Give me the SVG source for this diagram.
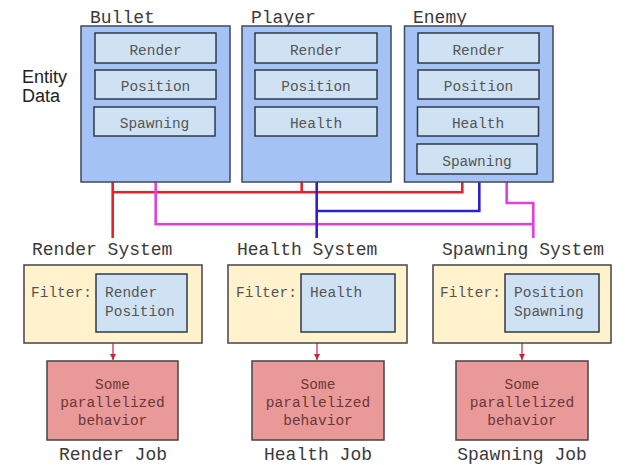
<svg xmlns="http://www.w3.org/2000/svg" width="640" height="465" viewBox="0 0 640 465">
<defs>
<style>
.ent{fill:#a4c2f4;stroke:#3f4a5a;stroke-width:1.5}
.comp{fill:#cfe2f3;stroke:#2f3a48;stroke-width:1.5}
.sys{fill:#fff2cc;stroke:#444;stroke-width:1.5}
.job{fill:#ea9999;stroke:#444;stroke-width:1.5}
.t{font-family:"Liberation Mono","Courier New",monospace;fill:#333}
.title{font-size:18px;fill:#3a3a3a}
.small{font-size:14.5px;fill:#555}
.ctr{text-anchor:middle}
.jt{fill:#6a3838}
.wire{fill:none;stroke-width:2.6}
.red{stroke:#e8202a}
.blue{stroke:#2a22d0}
.mag{stroke:#e040e0}
</style>
<marker id="ah" markerWidth="8" markerHeight="8" refX="6" refY="4" orient="auto" markerUnits="userSpaceOnUse">
<path d="M0,1 L6,4 L0,7 Z" fill="#d0203a"/>
</marker>
</defs>
<rect width="640" height="465" fill="#ffffff"/>

<text x="22" y="83" font-family="Liberation Sans, Arial, sans-serif" font-size="18" fill="#222">Entity</text>
<text x="22" y="102" font-family="Liberation Sans, Arial, sans-serif" font-size="18" fill="#222">Data</text>

<g id="connectors">
<path class="wire red" d="M112.7,182 V238 M112.7,192.3 H462.3 V182 M301.7,182 V192.3"/>
<path class="wire mag" d="M155.7,182 V224.3 H533.3 M506.7,182 V203 H533.3 V238"/>
<path class="wire blue" d="M316.7,182 V238 M316.7,211 H479.3 V182"/>
<line x1="113" y1="343" x2="113" y2="360" stroke="#d0203a" stroke-width="1.2" marker-end="url(#ah)"/>
<line x1="317" y1="343" x2="317" y2="360" stroke="#d0203a" stroke-width="1.2" marker-end="url(#ah)"/>
<line x1="522" y1="343" x2="522" y2="360" stroke="#d0203a" stroke-width="1.2" marker-end="url(#ah)"/>
</g>

<g id="bullet">
<text class="t title" x="90" y="23">Bullet</text>
<rect class="ent" x="81" y="26" width="149" height="156"/>
<rect class="comp" x="95" y="33" width="121" height="30"/>
<text class="t small ctr" x="155.5" y="54.5">Render</text>
<rect class="comp" x="95" y="70" width="121" height="29"/>
<text class="t small ctr" x="155.5" y="91">Position</text>
<rect class="comp" x="94" y="107" width="121" height="29"/>
<text class="t small ctr" x="154.5" y="128">Spawning</text>
</g>

<g id="player">
<text class="t title" x="251" y="23">Player</text>
<rect class="ent" x="242" y="26" width="149" height="156"/>
<rect class="comp" x="255" y="33" width="122" height="30"/>
<text class="t small ctr" x="316" y="54.5">Render</text>
<rect class="comp" x="255" y="70" width="122" height="29"/>
<text class="t small ctr" x="316" y="91">Position</text>
<rect class="comp" x="255" y="107" width="122" height="29"/>
<text class="t small ctr" x="316" y="128">Health</text>
</g>

<g id="enemy">
<text class="t title" x="413" y="23">Enemy</text>
<rect class="ent" x="404.5" y="26" width="148.5" height="156"/>
<rect class="comp" x="418" y="33" width="121" height="30"/>
<text class="t small ctr" x="478.5" y="54.5">Render</text>
<rect class="comp" x="418" y="70" width="121" height="29"/>
<text class="t small ctr" x="478.5" y="91">Position</text>
<rect class="comp" x="417.5" y="107" width="121" height="29"/>
<text class="t small ctr" x="478" y="128">Health</text>
<rect class="comp" x="417" y="144" width="120" height="30"/>
<text class="t small ctr" x="477" y="165.5">Spawning</text>
</g>

<g id="render-system">
<text class="t title" x="32" y="255">Render System</text>
<rect class="sys" x="24" y="265" width="178" height="78"/>
<text class="t small" x="31" y="297">Filter:</text>
<rect class="comp" x="96" y="274" width="91" height="58"/>
<text class="t small" x="105" y="297">Render</text>
<text class="t small" x="105" y="316">Position</text>
</g>

<g id="health-system">
<text class="t title" x="237" y="255">Health System</text>
<rect class="sys" x="228" y="265" width="179" height="78"/>
<text class="t small" x="236" y="297">Filter:</text>
<rect class="comp" x="301" y="274" width="94" height="58"/>
<text class="t small" x="310" y="297">Health</text>
</g>

<g id="spawning-system">
<text class="t title" x="442" y="255">Spawning System</text>
<rect class="sys" x="433" y="265" width="178" height="78"/>
<text class="t small" x="440" y="297">Filter:</text>
<rect class="comp" x="505" y="274" width="94" height="58"/>
<text class="t small" x="514" y="297">Position</text>
<text class="t small" x="514" y="316">Spawning</text>
</g>

<g id="render-job">
<rect class="job" x="47" y="361" width="131" height="79"/>
<text class="t small ctr jt" x="112.5" y="389">Some</text>
<text class="t small ctr jt" x="112.5" y="407">parallelized</text>
<text class="t small ctr jt" x="112.5" y="425">behavior</text>
<text class="t title ctr" x="113" y="460">Render Job</text>
</g>

<g id="health-job">
<rect class="job" x="252" y="361" width="132" height="79"/>
<text class="t small ctr jt" x="318" y="389">Some</text>
<text class="t small ctr jt" x="318" y="407">parallelized</text>
<text class="t small ctr jt" x="318" y="425">behavior</text>
<text class="t title ctr" x="318" y="460">Health Job</text>
</g>

<g id="spawning-job">
<rect class="job" x="456" y="361" width="132" height="79"/>
<text class="t small ctr jt" x="522" y="389">Some</text>
<text class="t small ctr jt" x="522" y="407">parallelized</text>
<text class="t small ctr jt" x="522" y="425">behavior</text>
<text class="t title ctr" x="522" y="460">Spawning Job</text>
</g>
</svg>
